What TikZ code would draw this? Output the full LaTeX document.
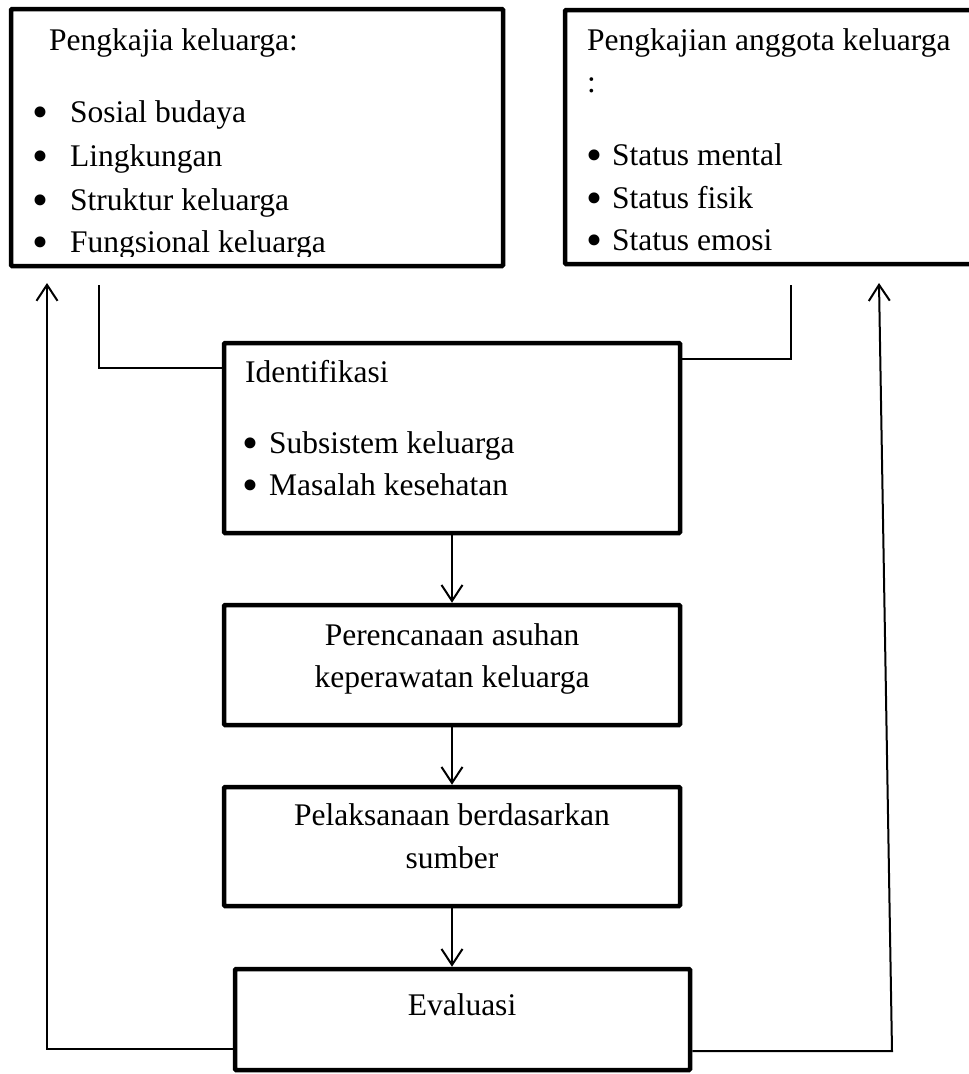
\documentclass[tikz,border=0pt]{standalone}
\usepackage{fontspec}
\usepackage{graphicx}
\setmainfont{Liberation Serif}
\usetikzlibrary{arrows.meta}
\newcommand{\bigbul}{\raisebox{-5pt}{\scalebox{1.45}{•}}}
\begin{document}
\begin{tikzpicture}[x=1pt,y=-1pt,
  box/.style={draw, line width=4.5pt, rectangle, inner sep=0pt, rounded corners=1pt},
  txt/.style={anchor=base west, inner sep=0pt, font=\fontsize{31.5}{37}\selectfont},
  ctxt/.style={anchor=base, inner sep=0pt, font=\fontsize{31.5}{37}\selectfont},
  bul/.style={anchor=base, inner sep=0pt, font=\fontsize{31.5}{37}\selectfont},
  link/.style={line width=2pt},
  arr/.style={link, -{Straight Barb[length=16pt,width=21pt,line width=2pt]}}]
\clip (0,0) rectangle (969,1074);
% boxes
\node[box, minimum width=492pt, minimum height=257pt] (kel) at (257,137.5) {};
\node[box, minimum width=435pt, minimum height=254pt] (ang) at (782.5,137) {};
\node[box, minimum width=456pt, minimum height=190pt] (ident) at (452,438) {};
\node[box, minimum width=456pt, minimum height=120pt] (plan) at (452,665) {};
\node[box, minimum width=456pt, minimum height=119pt] (pel) at (452,846.5) {};
\node[box, minimum width=455pt, minimum height=101pt] (eval) at (462.5,1019.5) {};
% left top text
\node[txt] (kt) at (49,50) {Pengkajia keluarga:};
\node[bul] (kb1) at (40,122) {\bigbul};
\node[txt] (k1) at (70,122) {Sosial budaya};
\node[bul] (kb2) at (40,166) {\bigbul};
\node[txt] (k2) at (70,166) {Lingkungan};
\node[bul] (kb3) at (40,210) {\bigbul};
\node[txt] (k3) at (70,210) {Struktur keluarga};
\begin{scope}
\clip (0,0) rectangle (969,256);
\node[bul] (kb4) at (40,252) {\bigbul};
\node[txt] (k4) at (70,252) {Fungsional keluarga};
\end{scope}
% right top text
\node[txt] (at) at (587,50) {Pengkajian anggota keluarga};
\node[txt] (ac) at (587,92) {:};
\node[bul] (ab1) at (594,165) {\bigbul};
\node[txt] (a1) at (612,165) {Status mental};
\node[bul] (ab2) at (594,208) {\bigbul};
\node[txt] (a2) at (612,208) {Status fisik};
\node[bul] (ab3) at (594,250) {\bigbul};
\node[txt] (a3) at (612,250) {Status emosi};
% identifikasi text
\node[txt] (it) at (245,382) {Identifikasi};
\node[bul] (ib1) at (250,453) {\bigbul};
\node[txt] (i1) at (269,453) {Subsistem keluarga};
\node[bul] (ib2) at (250,495) {\bigbul};
\node[txt] (i2) at (269,495) {Masalah kesehatan};
% other texts
\node[ctxt] (p1) at (452,645) {Perencanaan asuhan};
\node[ctxt] (p2) at (452,687) {keperawatan keluarga};
\node[ctxt] (q1) at (452,825) {Pelaksanaan berdasarkan};
\node[ctxt] (q2) at (452,868) {sumber};
\node[ctxt] (e1) at (462,1015) {Evaluasi};
% connectors
\coordinate (l1) at (99,285);
\coordinate (l2) at (99,368);
\draw[link] (l1) -- (l2) -- (l2 -| ident.west);
\coordinate (r1) at (791,285);
\coordinate (r2) at (791,359);
\draw[link] (r1) -- (r2) -- (r2 -| ident.east);
\draw[arr] (ident.south) -- (plan.north);
\draw[arr] (plan.south) -- (pel.north);
\draw[arr] (pel.south) -- (pel.south |- eval.north);
\coordinate (bl) at (47,1049);
\coordinate (tl) at (47,283);
\draw[arr] (bl -| eval.west) -- (bl) -- (tl);
\coordinate (br) at (892,1051);
\coordinate (tr) at (879,283);
\draw[arr] (br -| eval.east) -- (br) -- (tr);
\end{tikzpicture}
\end{document}
